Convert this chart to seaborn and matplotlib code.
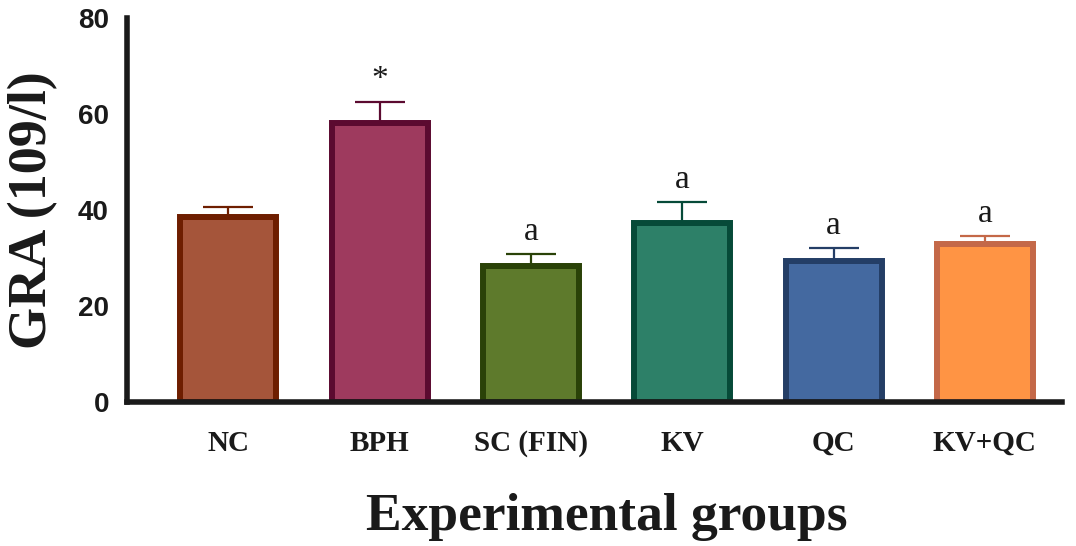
import pandas as pd
import matplotlib
matplotlib.use("Agg")
import matplotlib.pyplot as plt
import seaborn as sns

# data
grupos = ['NC', 'BPH', 'SC (FIN)', 'KV', 'QC', 'KV+QC']
media = [38.5, 58.2, 28.3, 37.3, 29.3, 32.9]
erro = [2.1, 4.3, 2.5, 4.3, 2.8, 1.7]
marcas = ['', '*', 'a', 'a', 'a', 'a']

cores_fill = ['#A5553A', '#9E3A5E', '#5E7A2C', '#2D8068', '#4469A0', '#FF9444']
cores_borda = ['#6E1E00', '#5B0A30', '#2A4208', '#064A38', '#243E66', '#C46848']

df = pd.DataFrame({'Grupo': grupos, 'GRA': media, 'SEM': erro})

sns.set_theme(style="white")
fig, ax = plt.subplots(figsize=(10.76, 5.46), dpi=100)
fig.subplots_adjust(left=0.118, right=0.987, bottom=0.2637, top=0.967)

sns.barplot(
    data=df,
    x='Grupo',
    y='GRA',
    hue='Grupo',
    palette=cores_fill,
    saturation=1,
    order=grupos,
    hue_order=grupos,
    width=0.634,
    linewidth=4.3,
    errorbar=None,
    legend=False,
    ax=ax,
)

for patch, borda in zip(ax.patches, cores_borda):
    patch.set_edgecolor(borda)
    patch.set_zorder(2)

# error bars only upwards
for i, (m, e, c) in enumerate(zip(media, erro, cores_borda)):
    ax.errorbar(i, m, yerr=[[0], [e]], fmt='none', ecolor=c,
                elinewidth=1.6, capsize=18, capthick=1.6, zorder=1)

# significance marks
for i, (m, e, s) in enumerate(zip(media, erro, marcas)):
    if s:
        ax.text(i, m + e + 3.0, s, ha='center', va='baseline',
                fontsize=24, family='Liberation Serif', color='#1a1a1a')

ax.set_xlim(-0.67, 5.51)
ax.set_ylim(0, 80)
ax.set_yticks([0, 20, 40, 60, 80])

sns.despine(ax=ax)
for lado in ['left', 'bottom']:
    ax.spines[lado].set_linewidth(4)
    ax.spines[lado].set_color('#1a1a1a')

ax.tick_params(axis='both', length=11, width=4, color='#1a1a1a')
ax.tick_params(axis='y', pad=2)
ax.tick_params(axis='x', pad=9)

for rotulo in ax.get_yticklabels():
    rotulo.set_fontfamily('Liberation Sans')
    rotulo.set_fontweight('bold')
    rotulo.set_fontsize(20)
    rotulo.set_color('#1a1a1a')
for rotulo in ax.get_xticklabels():
    rotulo.set_fontfamily('Liberation Serif')
    rotulo.set_fontweight('bold')
    rotulo.set_fontsize(21)
    rotulo.set_color('#1a1a1a')

ax.set_ylabel('GRA (109/l)', fontsize=39, fontweight='bold',
              family='Liberation Serif', color='#1a1a1a', va='center')
ax.yaxis.set_label_coords(-0.1, 0.5)
ax.set_xlabel('Experimental groups', fontsize=38.5, fontweight='bold',
              family='Liberation Serif', color='#1a1a1a', va='center')
ax.xaxis.set_label_coords(0.513, -0.30)

plt.savefig('out.png', dpi=100)
